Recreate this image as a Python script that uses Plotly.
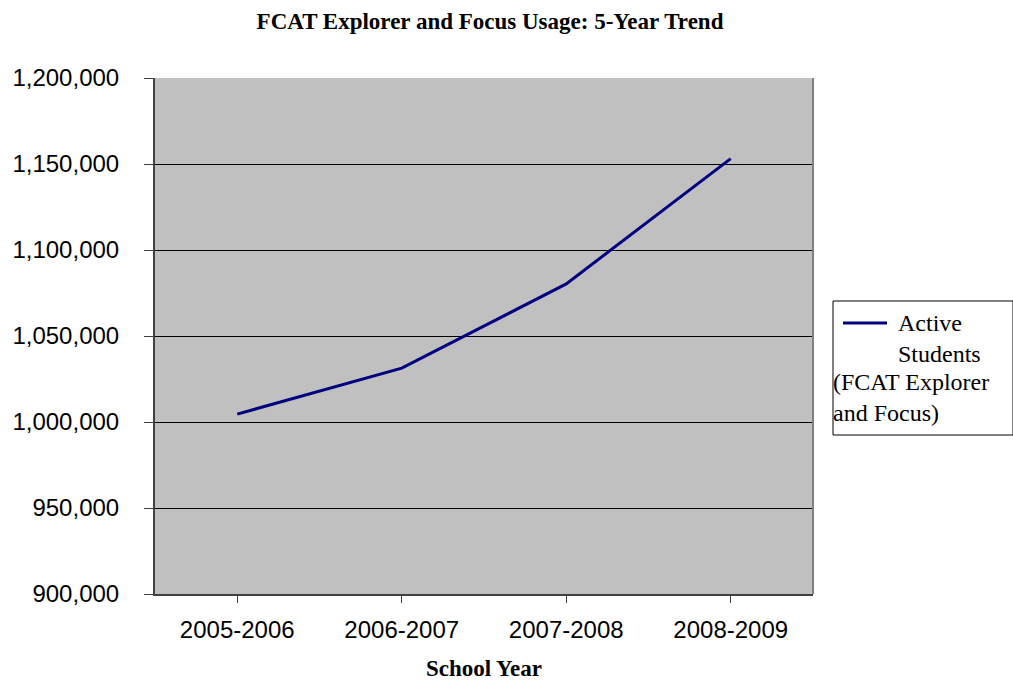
import plotly.graph_objects as go

school_years = ["2005-2006", "2006-2007", "2007-2008", "2008-2009"]
active_students = [1004600, 1031300, 1080300, 1153100]
y_tick_values = [900000, 950000, 1000000, 1050000, 1100000, 1150000, 1200000]
y_tick_labels = ["900,000", "950,000", "1,000,000", "1,050,000", "1,100,000", "1,150,000", "1,200,000"]

W, H = 1013, 681
L, R, T, B = 155, 813, 78, 594

def px(x):
    return (x - L) / (R - L)

def py(y):
    return (B - y) / (B - T)

serif = "Liberation Serif, Times New Roman, serif"
sans = "Liberation Sans, Arial, sans-serif"

fig = go.Figure()
fig.add_trace(go.Scatter(
    x=school_years, y=active_students, mode="lines",
    line=dict(color="#000080", width=3),
    name="Active Students (FCAT Explorer and Focus)",
    showlegend=False,
))

fig.update_layout(
    width=W, height=H,
    margin=dict(l=L, r=W - R, t=T, b=H - B, pad=0, autoexpand=False),
    paper_bgcolor="white",
    plot_bgcolor="#C0C0C0",
    title=dict(
        text="<b>FCAT Explorer and Focus Usage: 5-Year Trend</b>",
        font=dict(family=serif, size=23, color="black"),
        x=px(490), xref="paper", xanchor="center",
        y=1 - 21 / H, yref="container", yanchor="middle",
        automargin=False,
    ),
    xaxis=dict(
        type="category",
        range=[-0.5, 3.5],
        automargin=False,
        showgrid=False,
        showline=True, linecolor="#404040", linewidth=2,
        ticks="outside", ticklen=7, tickcolor="#404040", tickwidth=1,
        tickfont=dict(family=sans, size=24, color="black"),
        ticklabelstandoff=6,
        title=dict(text="<b>School Year</b>",
                   font=dict(family=serif, size=23, color="black"),
                   standoff=20),
    ),
    yaxis=dict(
        range=[900000, 1200000],
        automargin=False,
        tickvals=y_tick_values, ticktext=y_tick_labels,
        showgrid=True, gridcolor="black", gridwidth=1,
        showline=True, linecolor="#404040", linewidth=2,
        ticks="outside", ticklen=9, tickcolor="#404040", tickwidth=1,
        tickfont=dict(family=sans, size=24, color="black"),
        ticklabelstandoff=20,
        zeroline=False,
    ),
)

# right border of plot area
fig.add_shape(type="line", xref="paper", yref="paper", x0=1, x1=1, y0=0, y1=1,
              line=dict(color="#808080", width=2))

# custom legend
fig.add_shape(type="rect", xref="paper", yref="paper",
              x0=px(833), x1=px(1013), y0=py(435), y1=py(301),
              line=dict(color="black", width=1), fillcolor="white")
fig.add_shape(type="line", xref="paper", yref="paper",
              x0=px(843), x1=px(887), y0=py(323), y1=py(323),
              line=dict(color="#000080", width=3))
legend_font = dict(family=serif, size=24, color="black")
fig.add_annotation(xref="paper", yref="paper", x=px(896), y=py(338), xanchor="left", yanchor="middle",
                   text="Active<br>Students", align="left", showarrow=False, font=legend_font)
fig.add_annotation(xref="paper", yref="paper", x=px(831), y=py(397), xanchor="left", yanchor="middle",
                   text="(FCAT Explorer<br>and Focus)", align="left", showarrow=False, font=legend_font)

fig.write_html("out.html")
